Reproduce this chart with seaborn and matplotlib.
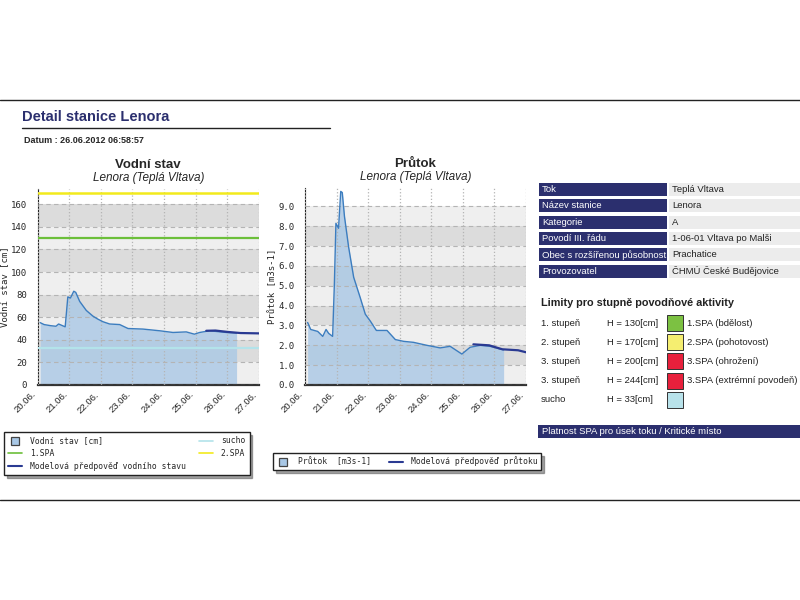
import pandas as pd
import numpy as np
import seaborn as sns
import matplotlib.pyplot as plt
import matplotlib.dates as mdates
from matplotlib.lines import Line2D
from matplotlib.patches import Rectangle

# water level (cm), observed
level_time = ["2012-06-20 02:00", "2012-06-20 05:00", "2012-06-20 10:00", "2012-06-20 14:00",
              "2012-06-20 16:00", "2012-06-20 19:00", "2012-06-20 21:00", "2012-06-20 23:00",
              "2012-06-21 01:00", "2012-06-21 03:30", "2012-06-21 05:00", "2012-06-21 08:00",
              "2012-06-21 13:00", "2012-06-21 18:00", "2012-06-21 21:30", "2012-06-22 01:40",
              "2012-06-22 06:45", "2012-06-22 14:20", "2012-06-22 20:40", "2012-06-23 08:00",
              "2012-06-23 20:40", "2012-06-24 06:45", "2012-06-24 16:50", "2012-06-24 23:00",
              "2012-06-25 03:00", "2012-06-25 10:30", "2012-06-25 23:20", "2012-06-26 07:00"]
level_val = [55.2, 53.5, 52.5, 52, 54, 52.5, 51.5, 78, 77, 83, 82, 74, 66, 61, 58.5, 56,
             54, 53.5, 50, 49.5, 48, 46.5, 47, 45, 46.5, 48, 46.5, 46]
level_fc_time = ["2012-06-25 08:00", "2012-06-25 15:00", "2012-06-26 00:00", "2012-06-26 10:00", "2012-06-27 00:00"]
level_fc_val = [48, 48.2, 47, 46, 45.7]

# discharge (m3/s), observed
flow_time = ["2012-06-20 02:00", "2012-06-20 04:20", "2012-06-20 09:40", "2012-06-20 13:30",
             "2012-06-20 16:00", "2012-06-20 18:00", "2012-06-20 21:00", "2012-06-20 22:20",
             "2012-06-20 23:30", "2012-06-21 01:30", "2012-06-21 03:10", "2012-06-21 04:20",
             "2012-06-21 06:00", "2012-06-21 09:10", "2012-06-21 13:00", "2012-06-21 18:00",
             "2012-06-21 21:50", "2012-06-22 01:40", "2012-06-22 06:15", "2012-06-22 14:20",
             "2012-06-22 20:40", "2012-06-23 03:00", "2012-06-23 10:30", "2012-06-23 20:40",
             "2012-06-24 06:45", "2012-06-24 14:20", "2012-06-24 23:15", "2012-06-25 05:30",
             "2012-06-25 13:10", "2012-06-25 20:40", "2012-06-26 07:00"]
flow_val = [3.15, 2.8, 2.7, 2.45, 2.8, 2.6, 2.45, 5.1, 8.15, 7.9, 9.76, 9.7, 8.5, 6.95, 5.43,
            4.4, 3.57, 3.22, 2.75, 2.75, 2.29, 2.2, 2.15, 2.0, 1.87, 1.95, 1.56, 1.9, 2.0, 1.95, 1.77]
flow_fc_time = ["2012-06-25 08:00", "2012-06-25 20:00", "2012-06-26 06:00", "2012-06-26 18:00", "2012-06-27 00:00"]
flow_fc_val = [2.05, 2.0, 1.8, 1.75, 1.65]

spa1, spa2, sucho = 130, 170, 33

table_keys = ["Tok", "Název stanice", "Kategorie", "Povodí III. řádu", "Obec s rozšířenou působností", "Provozovatel"]
table_vals = ["Teplá Vltava", "Lenora", "A", "1-06-01 Vltava po Malši", "Prachatice", "ČHMÚ České Budějovice"]

lim_names = ["1. stupeň", "2. stupeň", "3. stupeň", "3. stupeň", "sucho"]
lim_h = ["H = 130[cm]", "H = 170[cm]", "H = 200[cm]", "H = 244[cm]", "H = 33[cm]"]
lim_desc = ["1.SPA (bdělost)", "2.SPA (pohotovost)", "3.SPA (ohrožení)", "3.SPA (extrémní povodeň)", ""]
lim_colors = ["#7cc142", "#f5ee70", "#e8203c", "#e8203c", "#b8e2ea"]

sns.set_style("white")
plt.rcParams['font.family'] = ['Liberation Sans', 'DejaVu Sans']

NAVY = "#2b2f6e"
FILL = "#a9c8e6"
LINE = "#3c7dbf"
FC = "#2a3a92"
MONO = "DejaVu Sans Mono"

fig = plt.figure(figsize=(8, 6), dpi=100)


def px(x, y, w, h):
    return [x / 800, 1 - (y + h) / 600, w / 800, h / 600]


def chart(ax, t, v, fct, fcv, ymax, step, minor, fmt, ylabel, title):
    t = pd.to_datetime(t)
    fct = pd.to_datetime(fct)
    ticks = np.arange(0, ymax, step)
    # alternating grey bands between the major ticks
    for i, lo in enumerate(ticks):
        hi = min(lo + step, ticks[-1])
        if hi <= lo:
            continue
        ax.axhspan(lo, hi, color="#dcdcdc" if i % 2 else "#efefef", zorder=0, lw=0)
    ax.fill_between(t, v, color=FILL, alpha=0.8, lw=0, zorder=1)
    sns.lineplot(x=t, y=v, ax=ax, color=LINE, lw=1, zorder=4)
    sns.lineplot(x=fct, y=fcv, ax=ax, color=FC, lw=1.6, zorder=5)
    ax.set_xlim(pd.Timestamp("2012-06-20"), pd.Timestamp("2012-06-27"))
    ax.set_ylim(0, ymax)
    ax.set_yticks(ticks)
    ax.set_yticklabels([fmt.format(x) for x in ticks], fontfamily=MONO, fontsize=6.5)
    ax.set_yticks(np.arange(0, ymax, minor), minor=True)
    ax.xaxis.set_major_locator(mdates.DayLocator())
    ax.xaxis.set_minor_locator(mdates.HourLocator(byhour=[6, 12, 18]))
    ax.xaxis.set_major_formatter(mdates.DateFormatter("%d.%m."))
    for lb in ax.get_xticklabels():
        lb.set_rotation(45)
        lb.set_ha("right")
        lb.set_fontsize(6.8)
    ax.tick_params(axis="x", which="both", direction="in", length=3, width=1, color="#222")
    ax.tick_params(axis="y", which="major", direction="out", length=4, color="#222")
    ax.tick_params(axis="y", which="minor", direction="out", length=2, color="#222")
    ax.grid(axis="y", which="major", ls=(0, (4, 3)), color="#b4b4b4", lw=0.8, zorder=2)
    ax.grid(axis="x", which="major", ls=":", color="#b4b4b4", lw=0.9, zorder=2)
    ax.set_axisbelow(False)
    for s in ["top", "right"]:
        ax.spines[s].set_visible(False)
    ax.spines["left"].set_color("#222")
    ax.spines["bottom"].set_color("#333")
    ax.spines["bottom"].set_linewidth(1.6)
    ax.set_xlabel("")
    ax.set_ylabel(ylabel, fontfamily=MONO, fontsize=6.5, labelpad=1)
    ax.set_title(title, fontsize=9.5, fontweight="bold", pad=15)
    ax.text(0.5, 1.025, "Lenora (Teplá Vltava)", transform=ax.transAxes, ha="center",
            va="bottom", fontsize=8.5, style="italic")


ax1 = fig.add_axes(px(37.5, 189, 221.5, 196))
chart(ax1, level_time, level_val, level_fc_time, level_fc_val, 173.5, 20, 10, "{:.0f}",
      "Vodní stav [cm]", "Vodní stav")
ax1.axhline(spa2, color="#f2ea1c", lw=1.8, zorder=3)
ax1.axhline(spa1, color="#6cbf3a", lw=1.6, zorder=3)
ax1.axhline(sucho, color="#b3e3ea", lw=1.6, zorder=3)

ax2 = fig.add_axes(px(305, 188, 221, 197))
chart(ax2, flow_time, flow_val, flow_fc_time, flow_fc_val, 9.93, 1.0, 0.5, "{:.1f}",
      "Průtok [m3s-1]", "Průtok")

# legends
leg_kw = dict(prop={"family": MONO, "size": 5.8}, frameon=True, fancybox=False, shadow=True,
              edgecolor="#222", borderpad=0.55, labelspacing=0.45, handlelength=1.7,
              handletextpad=1.0, borderaxespad=0)
fill_h = Line2D([], [], ls="", marker="s", markersize=6, markerfacecolor=FILL,
                markeredgecolor="#444", markeredgewidth=0.9)
h1 = [fill_h, Line2D([], [], color="#6cbf3a", lw=1.2), Line2D([], [], color=FC, lw=1.5),
      Line2D([], [], color="#b3e3ea", lw=1.2), Line2D([], [], color="#f2ea1c", lw=1.2)]
l1 = ["Vodní stav [cm]", "1.SPA", "Modelová předpověď vodního stavu", "sucho", "2.SPA"]
fig.legend(h1, l1, ncol=2, loc="upper left", bbox_to_anchor=(4 / 800, 1 - 432 / 600),
           columnspacing=1.6, **leg_kw)
h2 = [fill_h, Line2D([], [], color=FC, lw=1.5)]
l2 = ["Průtok  [m3s-1]", "Modelová předpověď průtoku"]
fig.legend(h2, l2, ncol=2, loc="upper left", bbox_to_anchor=(273 / 800, 1 - 453 / 600),
           columnspacing=2.2, **dict(leg_kw, borderpad=0.45))

# page frame and header
fig.add_artist(Line2D([0, 1], [1 - 100 / 600] * 2, color="#222", lw=1))
fig.add_artist(Line2D([0, 1], [1 - 500 / 600] * 2, color="#222", lw=1))
fig.add_artist(Line2D([22 / 800, 330 / 800], [1 - 128 / 600] * 2, color="#222", lw=1))
fig.text(22 / 800, 1 - 117 / 600, "Detail stanice Lenora", fontsize=10.5, fontweight="bold",
         color=NAVY, va="center")
fig.text(24 / 800, 1 - 140 / 600, "Datum : 26.06.2012 06:58:57", fontsize=6.5,
         fontweight="bold", va="center")

# station table
for i, (k, v) in enumerate(zip(table_keys, table_vals)):
    y = 183 + i * 16.3
    fig.add_artist(Rectangle((539 / 800, 1 - (y + 13) / 600), 128 / 800, 13 / 600,
                             transform=fig.transFigure, color=NAVY, lw=0))
    fig.add_artist(Rectangle((669 / 800, 1 - (y + 13) / 600), 131 / 800, 13 / 600,
                             transform=fig.transFigure, color="#ececec", lw=0))
    fig.text(542 / 800, 1 - (y + 6.5) / 600, k, color="white", fontsize=6.8, va="center")
    fig.text(672 / 800, 1 - (y + 6.5) / 600, v, color="#222", fontsize=6.8, va="center")

# limits
fig.text(541 / 800, 1 - 303 / 600, "Limity pro stupně povodňové aktivity", fontsize=7.8,
         fontweight="bold", va="center", color="#222")
for i in range(5):
    y = 323 + i * 19.2
    fig.text(541 / 800, 1 - y / 600, lim_names[i], fontsize=6.8, va="center", color="#222")
    fig.text(607 / 800, 1 - y / 600, lim_h[i], fontsize=6.8, va="center", color="#222")
    fig.add_artist(Rectangle((667 / 800, 1 - (y + 8) / 600), 16 / 800, 16 / 600,
                             transform=fig.transFigure, facecolor=lim_colors[i],
                             edgecolor="#333", lw=0.7))
    fig.text(687 / 800, 1 - y / 600, lim_desc[i], fontsize=6.8, va="center", color="#222")

fig.add_artist(Rectangle((538 / 800, 1 - 438 / 600), 262 / 800, 13 / 600,
                         transform=fig.transFigure, color=NAVY, lw=0))
fig.text(542 / 800, 1 - 431.5 / 600, "Platnost SPA pro úsek toku / Kritické místo",
         color="white", fontsize=6.8, va="center")

fig.savefig("out.png", dpi=100)
